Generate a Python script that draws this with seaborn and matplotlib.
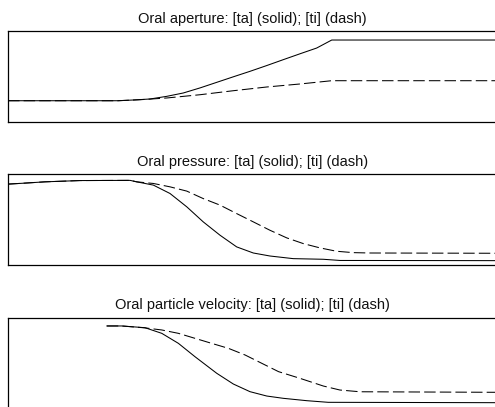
import numpy as np
import pandas as pd
import seaborn as sns
import matplotlib
matplotlib.use("Agg")
import matplotlib.pyplot as plt

# time axis in ms, values normalised to each panel (0 = bottom, 1 = top)
ap_ta_t = [0, 56.2, 64.1, 72.6, 81.1, 89.6, 98.2, 106.7, 115.2, 123.7, 132.2,
           140.7, 149.3, 157.8, 165.5, 250]
ap_ta_y = [0.234, 0.234, 0.242, 0.253, 0.282, 0.319, 0.375, 0.436, 0.497, 0.557,
           0.620, 0.685, 0.750, 0.813, 0.901, 0.901]
ap_ti_t = [0, 56.2, 67.5, 81.1, 98.2, 115.2, 132.3, 149.3, 165.5, 250]
ap_ti_y = [0.234, 0.234, 0.245, 0.264, 0.300, 0.344, 0.385, 0.418, 0.454, 0.454]

pr_ta_t = [0, 7.2, 18.9, 36.8, 62.4, 65.8, 74.3, 82.8, 91.4, 99.8, 108.4, 116.9,
           125.4, 133.9, 145.8, 161.2, 169.7, 250]
pr_ta_y = [0.892, 0.901, 0.917, 0.931, 0.933, 0.917, 0.881, 0.789, 0.642, 0.477,
           0.330, 0.202, 0.135, 0.102, 0.073, 0.066, 0.053, 0.051]
pr_ti_t = [0, 7.2, 18.9, 36.8, 62.4, 65.8, 74.3, 82.8, 91.4, 99.8, 108.4, 116.9,
           125.4, 133.9, 142.5, 151.0, 159.5, 168.0, 176.5, 185.1, 250]
pr_ti_y = [0.892, 0.901, 0.917, 0.931, 0.933, 0.917, 0.899, 0.862, 0.815, 0.733,
           0.661, 0.568, 0.477, 0.385, 0.301, 0.238, 0.191, 0.154, 0.139, 0.135, 0.132]

ve_ta_t = [50.5, 58.1, 70.0, 78.6, 87.1, 95.6, 106.7, 115.2, 123.7, 132.3, 140.7,
           152.7, 163.7, 250]
ve_ta_y = [0.907, 0.907, 0.888, 0.826, 0.716, 0.569, 0.387, 0.269, 0.185, 0.137,
           0.112, 0.086, 0.068, 0.064]
ve_ti_t = [50.5, 58.1, 70.0, 78.6, 87.1, 95.6, 104.1, 112.7, 121.2, 129.7, 138.3,
           149.2, 161.2, 169.7, 179.9, 250]
ve_ti_y = [0.907, 0.907, 0.886, 0.863, 0.826, 0.771, 0.716, 0.661, 0.588, 0.497,
           0.405, 0.332, 0.247, 0.203, 0.184, 0.178]

titles = ["Oral aperture: [ta] (solid); [ti] (dash)",
          "Oral pressure: [ta] (solid); [ti] (dash)",
          "Oral particle velocity: [ta] (solid); [ti] (dash)"]

panels = [
    (ap_ta_t, ap_ta_y, ap_ti_t, ap_ti_y),
    (pr_ta_t, pr_ta_y, pr_ti_t, pr_ti_y),
    (ve_ta_t, ve_ta_y, ve_ti_t, ve_ti_y),
]

sns.set_style("white")
plt.rcParams["font.family"] = ["Liberation Sans", "DejaVu Sans"]

fig = plt.figure(figsize=(4.95, 4.07), dpi=100)
bottoms = [0.7002, 0.3482, -0.0037]

for i, (t1, y1, t2, y2) in enumerate(panels):
    ax = fig.add_axes([0.0162, bottoms[i], 0.9879, 0.2236])
    sns.lineplot(x=t2, y=y2, ax=ax, color="black", lw=0.75,
                 linestyle=(0, (11, 4)), estimator=None, sort=False)
    sns.lineplot(x=t1, y=y1, ax=ax, color="black", lw=0.75,
                 estimator=None, sort=False)
    ax.set_xlim(0, 250)
    ax.set_ylim(0, 1)
    ax.set_xticks([])
    ax.set_yticks([])
    ax.set_xlabel("")
    ax.set_ylabel("")
    for s in ax.spines.values():
        s.set_color("black")
        s.set_linewidth(0.9)
    ax.set_title(titles[i], fontsize=10.5, color="#111111", pad=6)

fig.savefig("out.png", dpi=100)
